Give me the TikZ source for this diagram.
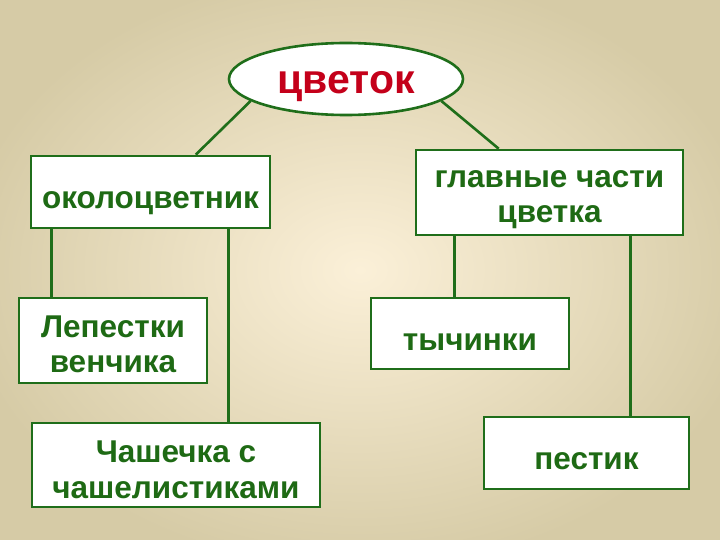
\documentclass[tikz,border=0pt]{standalone}
\usepackage{fontspec}
\setmainfont{Liberation Sans}
\usetikzlibrary{shapes.geometric}
\definecolor{bgin}{HTML}{FBF0D8}
\definecolor{bgout}{HTML}{D6CBA6}
\definecolor{dgreen}{HTML}{1E6A14}
\definecolor{lgreen}{HTML}{1F6E1A}
\definecolor{redt}{HTML}{C4001A}
\newcommand\mystrut{\rule[-0.212em]{0pt}{1.117em}}
\newcommand\mytopstrut{\rule[-0.212em]{0pt}{1.5em}}
\begin{document}
\begin{tikzpicture}[x=1pt,y=-1pt,
  box/.style={draw=lgreen,line width=2.6pt,fill=white,inner sep=0pt},
  txt/.style={inner sep=0pt,align=center,text=dgreen,font=\fontsize{31.5}{35.5}\selectfont\bfseries},
  one/.style={txt,execute at begin node=\mytopstrut, execute at end node=\mystrut},
  link/.style={draw=lgreen,line width=2.6pt}]
\useasboundingbox (0,0) rectangle (720,540);
\begin{scope}
\clip (0,0) rectangle (720,540);
\shade[inner color=bgin,outer color=bgout] (-40,-30) rectangle (760,570);
\end{scope}
\node[ellipse,draw=lgreen,line width=2.6pt,fill=white,minimum width=234pt,minimum height=72pt,
  inner sep=0pt,text=redt,font=\fontsize{41}{44}\selectfont\bfseries,
  execute at begin node=\mystrut] (cv) at (346,79) {цветок};
\node[box,minimum width=239pt,minimum height=72pt] (ok) at (150.5,192) {};
\node[box,minimum width=267pt,minimum height=85pt] (gl) at (549.5,192.5) {};
\node[box,minimum width=188pt,minimum height=85pt] (lp) at (113,340.5) {};
\node[box,minimum width=288pt,minimum height=84pt] (ch) at (176,465) {};
\node[box,minimum width=198pt,minimum height=71pt] (ty) at (470,333.5) {};
\node[box,minimum width=205pt,minimum height=72pt] (ps) at (586.5,453) {};
\node[one] (okT) at (ok.center) {околоцветник};
\node[one] (tyT) at (ty.center) {тычинки};
\node[one] (psT) at (ps.center) {пестик};
\node[txt] (glT) at ([yshift=-7pt]gl.center) {главные части\\цветка};
\node[txt] (lpT) at ([yshift=-4pt]lp.center) {Лепестки\\венчика};
\node[txt] (chT) at ([yshift=-5pt]ch.center) {Чашечка с\\чашелистиками};
\draw[link] (cv.193) -- ([xshift=166pt]ok.north west);
\draw[link] (cv.347) -- ([xshift=84pt]gl.north west);
\draw[link] ([xshift=22pt]ok.south west) -- ([xshift=34pt]lp.north west);
\draw[link] ([xshift=199pt]ok.south west) -- ([xshift=198pt]ch.north west);
\draw[link] ([xshift=40pt]gl.south west) -- ([xshift=85pt]ty.north west);
\draw[link] ([xshift=216pt]gl.south west) -- ([xshift=148pt]ps.north west);
\end{tikzpicture}
\end{document}
